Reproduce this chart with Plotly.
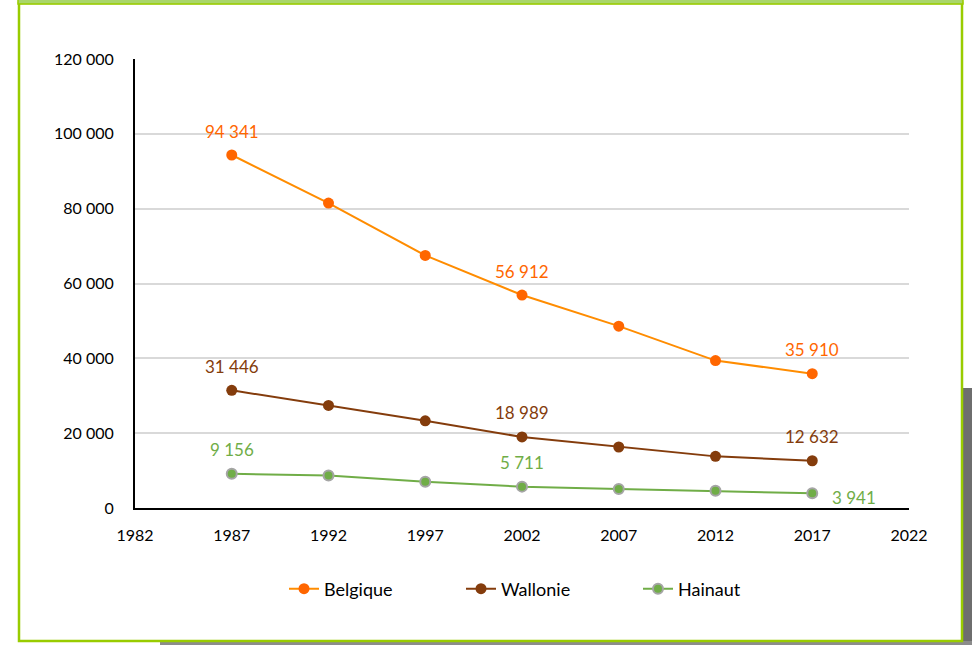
import plotly.graph_objects as go

years = [1987, 1992, 1997, 2002, 2007, 2012, 2017]
belgique = [94341, 81500, 67500, 56912, 48600, 39400, 35910]
wallonie = [31446, 27400, 23300, 18989, 16300, 13800, 12632]
hainaut = [9156, 8700, 7000, 5711, 5100, 4600, 3941]
label_years = [1987, 2002, 2017]

series = [
    ("Belgique", belgique, "#ff8c00", "#ff6600", "#ff6600"),
    ("Wallonie", wallonie, "#843c0c", "#843c0c", "#843c0c"),
    ("Hainaut", hainaut, "#70ad47", "#70ad47", "#70ad47"),
]


def fmt(v):
    return f"{v:,}".replace(",", " ")


# plot area in pixels
L, R, T, B = 135, 909, 59, 508


def px_x(p):
    return (p - L) / (R - L)


def px_y(p):
    return (B - p) / (B - T)


fig = go.Figure()
annotations = []

for name, values, line_col, marker_col, label_col in series:
    marker = dict(color=marker_col, size=11)
    if name == "Hainaut":
        marker = dict(color=marker_col, size=10, line=dict(color="#a5a5a5", width=2))
    fig.add_trace(go.Scatter(
        x=years, y=values, name=name, mode="lines+markers",
        line=dict(color=line_col, width=2), marker=marker,
    ))
    for y, v in zip(years, values):
        if y not in label_years:
            continue
        if name == "Hainaut" and y == 2017:
            shift = dict(xshift=42, yshift=-4)
        else:
            shift = dict(xshift=0, yshift=24)
        annotations.append(dict(
            x=y, y=v, text=fmt(v), showarrow=False,
            font=dict(color=label_col, size=17, family="Lato"), **shift,
        ))

shapes = [
    # shadow
    dict(type="rect", xref="paper", yref="paper", layer="below",
         x0=px_x(963), x1=px_x(972), y0=px_y(388), y1=px_y(645),
         fillcolor="#6e6e6e", line=dict(width=0)),
    dict(type="rect", xref="paper", yref="paper", layer="below",
         x0=px_x(160), x1=px_x(972), y0=px_y(641), y1=px_y(645),
         fillcolor="#8c8c8c", line=dict(width=0)),
    # frame
    dict(type="rect", xref="paper", yref="paper", layer="below",
         x0=px_x(19), x1=px_x(962), y0=px_y(641), y1=px_y(3),
         fillcolor="white", line=dict(color="#99cc00", width=2.5)),
    dict(type="rect", xref="paper", yref="paper", layer="below",
         x0=px_x(18), x1=px_x(963), y0=px_y(4), y1=px_y(-2),
         fillcolor="#a9d66a", line=dict(color="#99cc00", width=1.5)),
]

fig.update_layout(
    width=972, height=645,
    margin=dict(l=L, r=972 - R, t=T, b=645 - B),
    paper_bgcolor="white", plot_bgcolor="white",
    font=dict(family="Lato", size=16, color="#000000"),
    separators=", ",
    shapes=shapes,
    annotations=annotations,
    showlegend=True,
    legend=dict(orientation="h", x=px_x(284), xanchor="left", y=px_y(589), yanchor="middle",
                font=dict(size=18), entrywidthmode="pixels", entrywidth=132),
)
fig.update_xaxes(range=[1982, 2022], dtick=5, tick0=1982, showgrid=False,
                 showline=True, linecolor="black", linewidth=2, ticks="", zeroline=False,
                 ticklabelstandoff=12)
fig.update_yaxes(range=[0, 120000], dtick=20000, showgrid=True, gridcolor="#d9d9d9",
                 gridwidth=2, showline=True, linecolor="black", linewidth=2, ticks="",
                 zeroline=False, tickformat=",d", ticklabelstandoff=16)

fig.write_html("out.html", config={"displayModeBar": False},
               post_script="document.body.style.margin='0';")
